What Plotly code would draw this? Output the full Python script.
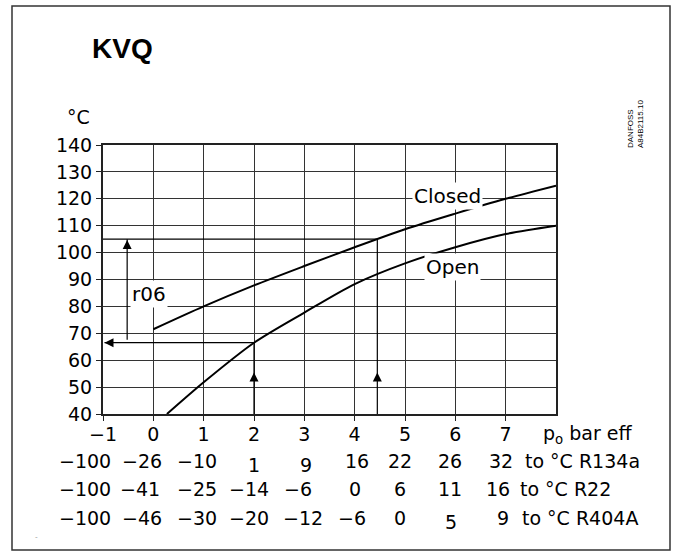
import plotly.graph_objects as go

# ---------------- data ----------------
pressure_ticks = [-1, 0, 1, 2, 3, 4, 5, 6, 7]
pressure_tick_text = ["\u22121", "0", "1", "2", "3", "4", "5", "6", "7"]
temp_ticks = [40, 50, 60, 70, 80, 90, 100, 110, 120, 130, 140]

closed_p = [0, 1, 2, 3, 4, 5, 6, 7, 8]
closed_t = [71.5, 80, 87.8, 95, 102, 108.7, 114.5, 120, 124.9]
open_p = [0.27, 1, 2, 3, 4, 5, 6, 7, 8]
open_t = [40, 51.8, 66.5, 77.7, 88.3, 96, 102, 106.9, 110]

# worked example (p, T)
example_open = (2, 66.5)
example_closed = (4.45, 105)
r06_p = -0.52

r134a = ["\u2212100", "\u221226", "\u221210", "1", "9", "16", "22", "26", "32"]
r22 = ["\u2212100", "\u221241", "\u221225", "\u221214", "\u22126", "0", "6", "11", "16"]
r404a = ["\u2212100", "\u221246", "\u221230", "\u221220", "\u221212", "\u22126", "0", "5", "9"]
refrigerant_names = ["to \u00b0C R134a", "to \u00b0C R22", "to \u00b0C R404A"]

# ---------------- layout geometry (pixels) ----------------
W, H = 677, 551
L, R, T, B = 103, 556, 145, 414
PW, PH = R - L, B - T


def px(x):
    return (x - L) / PW


def py(y):
    return (B - y) / PH


FONT = "DejaVu Sans"
fig = go.Figure()

fig.add_trace(go.Scatter(x=closed_p, y=closed_t, mode="lines",
                         line=dict(color="black", width=2, shape="spline", smoothing=0.8),
                         hoverinfo="skip"))
fig.add_trace(go.Scatter(x=open_p, y=open_t, mode="lines",
                         line=dict(color="black", width=2, shape="spline", smoothing=0.8),
                         hoverinfo="skip"))

# example lines
ln = dict(color="black", width=1.2)
ox, oy = example_open
cx, cy = example_closed
fig.add_shape(type="line", x0=ox, x1=ox, y0=40, y1=oy, line=ln)
fig.add_shape(type="line", x0=ox, x1=-0.97, y0=oy, y1=oy, line=ln)
fig.add_shape(type="line", x0=cx, x1=cx, y0=40, y1=cy, line=ln)
fig.add_shape(type="line", x0=-1, x1=cx, y0=cy, y1=cy, line=ln)
fig.add_shape(type="line", x0=r06_p, x1=r06_p, y0=oy + 1.1, y1=cy, line=ln)

# arrow heads
fig.add_trace(go.Scatter(x=[ox, cx, r06_p], y=[55.4, 55.4, cy - 0.3], mode="markers",
                         marker=dict(symbol="arrow-up", size=9, color="black"),
                         hoverinfo="skip"))
fig.add_trace(go.Scatter(x=[-0.97], y=[oy], mode="markers",
                         marker=dict(symbol="arrow-left", size=9, color="black"),
                         hoverinfo="skip"))

# curve labels with white background
for txt, xx, yy in [("Closed", 5.85, 121), ("Open", 5.94, 94.5), ("r06", -0.09, 84.6)]:
    fig.add_annotation(x=xx, y=yy, xref="x", yref="y", text=txt, showarrow=False,
                       font=dict(family=FONT, size=20, color="black"),
                       bgcolor="white", borderpad=1)

# bottom rows
row_vals = [r134a, r22, r404a]
row_x = [
    [84.5, 142, 197, 254, 306, 356.5, 399.5, 449.5, 500.5],
    [84.5, 140, 197, 248.5, 297.5, 355, 400, 450, 498],
    [84.5, 142, 197, 248.5, 303, 351.5, 400, 451, 503],
]
row_y = [461, 489, 517.5]
row_drop = [[0, 0, 0, 4, 4, 0, 0, 0, 0], [0] * 9, [0, 0, 0, 0, 0, 0, 0, 4, 0]]
suffix_x = [523, 518, 520]
for r in range(3):
    for v, xx, dd in zip(row_vals[r], row_x[r], row_drop[r]):
        fig.add_annotation(x=px(xx), y=py(row_y[r] + dd), xref="paper", yref="paper",
                           text=v, showarrow=False, xanchor="center", yanchor="middle",
                           font=dict(family=FONT, size=19, color="black"))
    fig.add_annotation(x=px(suffix_x[r]), y=py(row_y[r]), xref="paper", yref="paper",
                       text=refrigerant_names[r], showarrow=False, xanchor="left",
                       yanchor="middle", font=dict(family=FONT, size=19, color="black"))

# axis unit texts
fig.add_annotation(x=px(541), y=py(434), xref="paper", yref="paper",
                   text="p<sub>o</sub> bar eff", showarrow=False, xanchor="left",
                   yanchor="middle", font=dict(family=FONT, size=19, color="black"))
fig.add_annotation(x=px(65), y=py(117), xref="paper", yref="paper",
                   text="\u00b0C", showarrow=False, xanchor="left", yanchor="middle",
                   font=dict(family=FONT, size=19, color="black"))
fig.add_annotation(x=px(90), y=py(48), xref="paper", yref="paper",
                   text="<b>KVQ</b>", showarrow=False, xanchor="left", yanchor="middle",
                   font=dict(family="Liberation Sans", size=28, color="black"))
fig.add_annotation(x=px(635), y=py(150), xref="paper", yref="paper",
                   text="DANFOSS<br>A84B2115.10", showarrow=False, textangle=-90,
                   xanchor="center", yanchor="bottom", align="left",
                   font=dict(family="Liberation Sans", size=8, color="black"))
fig.add_annotation(x=px(33), y=py(543), xref="paper", yref="paper",
                   text="-", showarrow=False,
                   font=dict(family="Liberation Sans", size=8, color="#999"))

# frame
fig.add_shape(type="rect", xref="paper", yref="paper",
              x0=px(12), x1=px(670), y0=py(550), y1=py(6),
              line=dict(color="#333", width=1.5))

fig.update_xaxes(range=[-1, 8], tickvals=pressure_ticks, ticktext=pressure_tick_text,
                 showgrid=True, gridcolor="#333", gridwidth=1,
                 showline=True, linecolor="#222", linewidth=2, mirror=True,
                 ticks="outside", ticklen=5, tickcolor="#222", ticklabelstandoff=-3,
                 tickfont=dict(family=FONT, size=19, color="black"), zeroline=False)
fig.update_yaxes(range=[40, 140], tickvals=temp_ticks,
                 showgrid=True, gridcolor="#333", gridwidth=1,
                 showline=True, linecolor="#222", linewidth=2, mirror=True,
                 ticks="outside", ticklen=5, tickcolor="#222",
                 tickfont=dict(family=FONT, size=19, color="black"), zeroline=False)

fig.update_layout(width=W, height=H,
                  margin=dict(l=L, r=W - R, t=T, b=H - B),
                  paper_bgcolor="white", plot_bgcolor="white", showlegend=False)

fig.write_html("out.html",
               config={"displayModeBar": False},
               post_script="document.body.style.margin='0';"
                           "document.body.style.overflow='hidden';")
